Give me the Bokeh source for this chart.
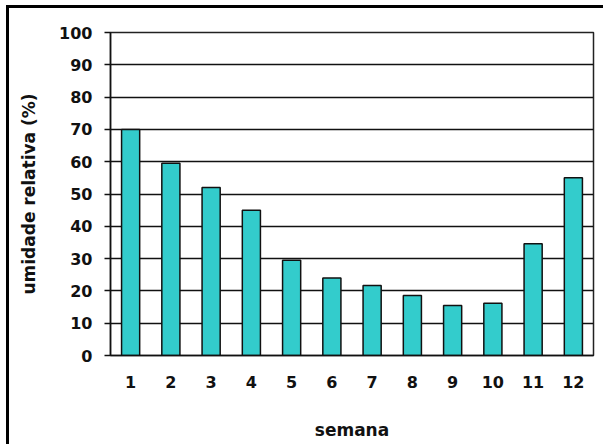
from bokeh.plotting import figure
from bokeh.models import ColumnDataSource, FixedTicker
from bokeh.embed import file_html
from bokeh.resources import INLINE

# Weekly relative humidity (%)
semanas = ["1", "2", "3", "4", "5", "6", "7", "8", "9", "10", "11", "12"]
umidade = [70, 59.5, 52, 45, 29.5, 24, 21.7, 18.6, 15.5, 16.2, 34.6, 55]
y_ticks = [0, 10, 20, 30, 40, 50, 60, 70, 80, 90, 100]

FONT = "DejaVu Sans"

source = ColumnDataSource(data=dict(semana=semanas, umidade=umidade))

p = figure(
    x_range=semanas,
    y_range=(0, 100),
    width=597,
    height=439,
    output_backend="svg",
    toolbar_location=None,
    min_border_left=101,
    min_border_top=24,
    min_border_right=13,
    min_border_bottom=92,
)
p.margin = (5, 0, 0, 6)
p.styles = {"border-top": "3px solid #000", "border-left": "3px solid #000"}

p.vbar(x="semana", top="umidade", width=0.45, source=source,
       fill_color="#33CCCC", line_color="#111111", line_width=1.5)

p.background_fill_color = "white"
p.border_fill_color = "white"
p.outline_line_color = "#222222"
p.outline_line_width = 1.5

p.xgrid.grid_line_color = None
p.ygrid.grid_line_color = "#111111"
p.ygrid.grid_line_width = 1.3
p.ygrid.ticker = FixedTicker(ticks=y_ticks)

p.yaxis.ticker = FixedTicker(ticks=y_ticks)
p.yaxis.axis_label = "umidade relativa (%)"
p.yaxis.major_tick_out = 6
p.yaxis.major_tick_in = 0
p.yaxis.minor_tick_line_color = None
p.yaxis.major_label_standoff = 12
p.yaxis.axis_label_standoff = 17

p.xaxis.axis_label = "semana"
p.xaxis.major_tick_out = 0
p.xaxis.major_tick_in = 0
p.xaxis.major_label_standoff = 20
p.xaxis.axis_label_standoff = 29

for ax in (p.xaxis, p.yaxis):
    ax.axis_line_color = "#111111"
    ax.axis_line_width = 1.5
    ax.major_tick_line_color = "#111111"
    ax.major_tick_line_width = 1.5
    ax.major_label_text_font = FONT
    ax.major_label_text_font_style = "bold"
    ax.major_label_text_font_size = "16px"
    ax.major_label_text_color = "#111111"
    ax.axis_label_text_font = FONT
    ax.axis_label_text_font_style = "bold"
    ax.axis_label_text_font_size = "17px"
    ax.axis_label_text_color = "#111111"

open("out.html", "w").write(file_html(p, INLINE))
